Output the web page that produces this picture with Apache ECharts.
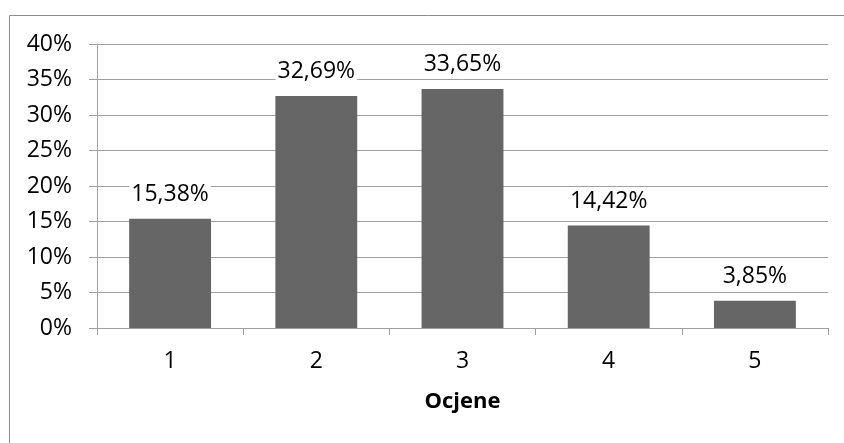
<!DOCTYPE html>
<html>
<head>
<meta charset="utf-8">
<script src="https://cdn.jsdelivr.net/npm/echarts@6/dist/echarts.min.js"></script>
<style>
html,body{margin:0;padding:0;background:#fff;}
#chart{width:844px;height:443px;}
</style>
</head>
<body>
<div id="chart"></div>
<script>
const categories = ['1', '2', '3', '4', '5'];
const values = [15.38, 32.69, 33.65, 14.42, 3.85];
const yTicks = [0, 5, 10, 15, 20, 25, 30, 35, 40];
const axisName = 'Ocjene';

const chart = echarts.init(document.getElementById('chart'), null, {renderer: 'canvas'});
const fontFamily = '"Open Sans", sans-serif';
chart.setOption({
  animation: false,
  backgroundColor: '#ffffff',
  graphic: [{
    type: 'rect',
    shape: {x: 9.5, y: 15.5, width: 900, height: 500},
    style: {fill: 'none', stroke: '#8c8c8c', lineWidth: 1},
    silent: true
  }],
  grid: {left: 97, right: 16, top: 44, bottom: 115, containLabel: false},
  xAxis: {
    type: 'category',
    data: categories,
    name: axisName,
    nameLocation: 'middle',
    nameGap: 63,
    nameTextStyle: {fontFamily: fontFamily, fontSize: 22, fontWeight: 'bold', color: '#000'},
    axisLine: {show: true, lineStyle: {color: '#a0a0a0', width: 1}},
    axisTick: {show: true, length: 7, lineStyle: {color: '#a0a0a0'}},
    axisLabel: {fontFamily: fontFamily, fontSize: 23, color: '#000', margin: 22}
  },
  yAxis: {
    type: 'value',
    min: yTicks[0],
    max: yTicks[yTicks.length - 1],
    interval: 5,
    axisLine: {show: true, lineStyle: {color: '#a0a0a0', width: 1}},
    axisTick: {show: true, length: 8, lineStyle: {color: '#a0a0a0'}},
    splitLine: {show: true, lineStyle: {color: '#a0a0a0', width: 1}},
    axisLabel: {
      fontFamily: fontFamily, fontSize: 23, color: '#000', margin: 25,
      formatter: v => v + '%'
    }
  },
  series: [{
    type: 'bar',
    data: values,
    barWidth: '56%',
    itemStyle: {color: '#666666'},
    label: {
      show: true,
      position: 'top',
      distance: 13,
      fontFamily: fontFamily,
      fontSize: 23,
      color: '#000',
      backgroundColor: '#ffffff',
      padding: [0, 2],
      formatter: p => p.value.toFixed(2).replace('.', ',') + '%'
    }
  }]
});
</script>
</body>
</html>
